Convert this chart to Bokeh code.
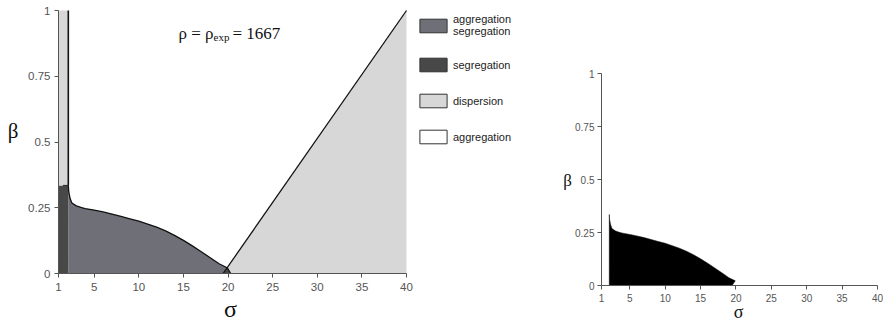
from bokeh.plotting import figure
from bokeh.layouts import row
from bokeh.models import Range1d, FixedTicker, Label, Legend, LegendItem
from bokeh.embed import file_html
from bokeh.resources import INLINE

# ---------------- data ----------------
sigma_ticks = [1, 5, 10, 15, 20, 25, 30, 35, 40]
beta_ticks = [0, 0.25, 0.5, 0.75, 1]
beta_tick_labels = ["0", "0.25", "0.5", "0.75", "1"]

sigma_min, sigma_max = 1, 40
beta_min, beta_max = 0, 1

# boundary of the narrow segregation / dispersion band at small sigma
sigma_band = 2.1
beta_band = 0.335

# upper boundary of the aggregation-segregation region
curve_sigma = [2.1, 2.15, 2.3, 2.5, 3.0, 3.5, 4, 5, 6, 7, 8, 9, 10, 11, 12,
               13, 14, 15, 16, 17, 18, 19, 19.9]
curve_beta = [0.335, 0.31, 0.285, 0.268, 0.257, 0.251, 0.247, 0.241, 0.234,
              0.226, 0.217, 0.208, 0.199, 0.188, 0.176, 0.162, 0.145, 0.126,
              0.105, 0.083, 0.06, 0.037, 0.022]
curve_foot_sigma = 20.3          # where the curve reaches beta = 0

# dispersion boundary (straight line)
disp_sigma = [19.45, 40]
disp_beta = [0, 1]

title_main = "ρ = ρ"
title_sub = "exp"
title_tail = "= 1667"

legend_labels = ["aggregation\nsegregation", "segregation", "dispersion", "aggregation"]

C_AGGSEG = "#6f6f78"
C_SEG = "#484848"
C_DISP = "#d7d7d7"
C_AGG = "#ffffff"
TICK_FONT = "Liberation Sans"
SERIF = "Liberation Serif"
H = 321


def ranges_for(width, px_left, px_right, px_top, px_bottom):
    """Ranges so that sigma 1..40 / beta 0..1 land on the given pixel box of a
    frame that fills the whole figure (all labels then sit inside the frame)."""
    sx = (px_right - px_left) / (sigma_max - sigma_min)
    sy = (px_bottom - px_top) / (beta_max - beta_min)
    xr = Range1d(sigma_min - px_left / sx, sigma_max + (width - px_right) / sx)
    yr = Range1d(beta_min - (H - px_bottom) / sy, beta_max + px_top / sy)
    return xr, yr


def make_fig(width, box, tick_size):
    xr, yr = ranges_for(width, *box)
    p = figure(width=width, height=H, output_backend="svg", toolbar_location=None,
               x_range=xr, y_range=yr, min_border=0,
               min_border_left=0, min_border_right=0, min_border_top=0, min_border_bottom=0)
    p.xaxis.ticker = FixedTicker(ticks=sigma_ticks)
    p.yaxis.ticker = FixedTicker(ticks=beta_ticks)
    p.yaxis.major_label_overrides = dict(zip(beta_ticks, beta_tick_labels))
    p.xaxis.fixed_location = beta_min
    p.yaxis.fixed_location = sigma_min
    p.xaxis.bounds = (sigma_min, sigma_max)
    p.yaxis.bounds = (beta_min, beta_max)
    for ax in (p.xaxis, p.yaxis):
        ax.major_tick_in = 0
        ax.major_tick_out = 4
        ax.minor_tick_line_color = None
        ax.axis_line_color = "#555555"
        ax.major_tick_line_color = "#555555"
        ax.major_label_text_font = TICK_FONT
        ax.major_label_text_font_size = tick_size
        ax.major_label_text_color = "#555555"
    p.grid.visible = False
    p.outline_line_color = None
    return p


def text(p, x, y, s, size, align="left", baseline="alphabetic", font=SERIF):
    p.add_layout(Label(x=x, y=y, x_units="screen", y_units="screen", text=s,
                       text_font=font, text_font_size=size, text_color="#111111",
                       text_align=align, text_baseline=baseline))


# ---------------- left panel ----------------
left = make_fig(540, (58, 406, 10, 273), "11.5px")
left.xaxis.major_label_standoff = 5
left.yaxis.major_label_standoff = 4

# regions
left.patch([sigma_band] + curve_sigma + [curve_foot_sigma],
           [0] + curve_beta + [0], fill_color=C_AGGSEG, line_alpha=0)
left.patch([disp_sigma[0], sigma_max, sigma_max], [0, 0, disp_beta[1]],
           fill_color=C_DISP, line_alpha=0)
left.patch([disp_sigma[0], curve_sigma[-1], curve_foot_sigma],
           [0, curve_beta[-1], 0], fill_color=C_SEG, line_alpha=0)
left.patch([sigma_min, sigma_band, sigma_band, sigma_min],
           [0, 0, beta_band, beta_band], fill_color=C_SEG, line_alpha=0)
left.patch([sigma_min, sigma_band, sigma_band, sigma_min],
           [beta_band, beta_band, beta_max, beta_max], fill_color=C_DISP, line_alpha=0)

# boundaries
left.line(curve_sigma + [curve_foot_sigma], curve_beta + [0], line_color="#111111", line_width=1.3)
left.line(disp_sigma, disp_beta, line_color="#111111", line_width=1.3)
left.line([sigma_band, sigma_band], [beta_band, beta_max], line_color="#111111", line_width=1.6)
left.line([sigma_min + 0.5, sigma_band], [beta_band, beta_band], line_color="#222222", line_width=1)

# legend proxies (hidden copies of a region, used only for the legend swatches)
legend_colors = [C_AGGSEG, C_SEG, C_DISP, C_AGG]
items = []
for lab, col in zip(legend_labels, legend_colors):
    r = left.patch([sigma_min, sigma_band, sigma_band, sigma_min], [0, 0, beta_band, beta_band],
                   fill_color=col, line_color="#333333", line_width=1, visible=False)
    items.append(LegendItem(label=lab, renderers=[r]))
legend = Legend(items=items, location=(416, 176), glyph_width=34, glyph_height=17,
                label_standoff=3, spacing=19, padding=10, margin=0,
                border_line_color=None, background_fill_alpha=0,
                label_text_font=TICK_FONT, label_text_font_size="11px",
                label_text_line_height=1.0,
                label_text_color="#222222", label_height=14)
left.add_layout(legend)

# title and axis titles (screen units from the figure's bottom-left corner)
text(left, 178, H - 32.5, title_main, "17px")
text(left, 213, H - 36.5, title_sub, "11px")
text(left, 232, H - 32.5, title_tail, "17px")
text(left, 12.5, H - 130, "β", "21px", align="center", baseline="middle")
text(left, 230, H - 308, "σ", "24px", align="center")

# ---------------- right panel ----------------
right = make_fig(345, (61, 337, 73, 285), "10px")
right.xaxis.major_label_standoff = 4
right.yaxis.major_label_standoff = 3

right.patch([sigma_band] + curve_sigma + [disp_sigma[0]],
            [0] + curve_beta + [0], fill_color="#000000", line_color="#000000",
            line_width=0.5)

text(right, 27, H - 180, "β", "17px", align="center", baseline="middle")
text(right, 198, H - 311, "σ", "18px", align="center")

layout = row(left, right)
open("out.html", "w").write(file_html(layout, INLINE))
